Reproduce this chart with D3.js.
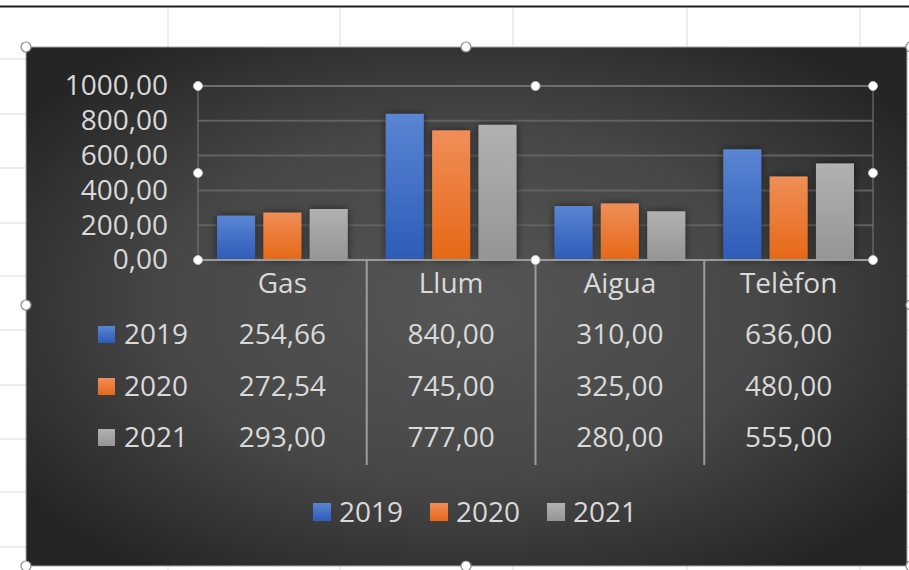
<!DOCTYPE html>
<html>
<head>
<meta charset="utf-8">
<script src="https://cdn.jsdelivr.net/npm/d3@7/dist/d3.min.js"></script>
<style>
  body { margin: 0; background: #ffffff; }
  svg { display: block; font-family: "Open Sans", sans-serif; }
  .texto { fill: #d9d9d9; font-size: 28px; }
</style>
</head>
<body>
<svg width="909" height="570"></svg>
<script>
// Dados do gráfico (despeses per any)
var categorias = ["Gas", "Llum", "Aigua", "Telèfon"];
var anos = ["2019", "2020", "2021"];
var valores2019 = [254.66, 840.00, 310.00, 636.00];
var valores2020 = [272.54, 745.00, 325.00, 480.00];
var valores2021 = [293.00, 777.00, 280.00, 555.00];
var marcasY = [0, 200, 400, 600, 800, 1000];

var valores = [valores2019, valores2020, valores2021];

// Cores das séries: topo e base do degradê
var coresTopo = ["#5b85d3", "#f08e58", "#b1b1b1"],
    coresBase = ["#2d5bb9", "#e66816", "#959595"];

var svg = d3.select("svg");
var defs = svg.append("defs");

// Formato com vírgula decimal
var formato = d3.formatLocale({decimal: ",", thousands: "", grouping: [3], currency: ["", ""]}).format(".2f");

/*
 * Fundo: planilha do Excel (linhas de grade) e a área do gráfico
 */
var colunasPlanilha = [168, 340, 513, 687, 860],
    linhasPlanilha = [59, 114, 168, 223, 276, 330, 385, 439, 492, 547];

svg.append("g")
    .selectAll("line")
    .data(colunasPlanilha)
    .enter().append("line")
      .attr("x1", function(d){return d;}).attr("x2", function(d){return d;})
      .attr("y1", 7).attr("y2", 570)
      .attr("stroke", "#dadada");
svg.append("g")
    .selectAll("line")
    .data(linhasPlanilha)
    .enter().append("line")
      .attr("x1", 0).attr("x2", 909)
      .attr("y1", function(d){return d;}).attr("y2", function(d){return d;})
      .attr("stroke", "#dadada");
svg.append("line")
    .attr("x1", 0).attr("x2", 909).attr("y1", 6.5).attr("y2", 6.5)
    .attr("stroke", "#1e1e1e").attr("stroke-width", 2);

var fundo = defs.append("radialGradient")
    .attr("id", "fundo")
    .attr("cx", "50%").attr("cy", "50%").attr("r", "62%");
fundo.append("stop").attr("offset", "0%").attr("stop-color", "#565656");
fundo.append("stop").attr("offset", "55%").attr("stop-color", "#474747");
fundo.append("stop").attr("offset", "100%").attr("stop-color", "#252525");

var area = {x0: 26, y0: 47, x1: 907, y1: 566};
svg.append("rect")
    .attr("x", area.x0).attr("y", area.y0)
    .attr("width", area.x1 - area.x0).attr("height", area.y1 - area.y0)
    .attr("fill", "url(#fundo)")
    .attr("stroke", "#a8a8a8").attr("stroke-width", 1);

// Degradês das barras
anos.forEach(function(a, i) {
  var g = defs.append("linearGradient")
      .attr("id", "barra" + i)
      .attr("x1", 0).attr("y1", 0).attr("x2", 0).attr("y2", 1);
  g.append("stop").attr("offset", "0%").attr("stop-color", coresTopo[i]);
  g.append("stop").attr("offset", "100%").attr("stop-color", coresBase[i]);
});

var sombra = defs.append("filter")
    .attr("id", "sombra")
    .attr("x", "-40%").attr("y", "-20%").attr("width", "180%").attr("height", "140%");
sombra.append("feDropShadow")
    .attr("dx", 0).attr("dy", 0).attr("stdDeviation", 4)
    .attr("flood-color", "#000").attr("flood-opacity", 0.55);

/*
 * Escalas
 */
var plot = {left: 198, right: 873, top: 86, bottom: 260};

var x = d3.scaleBand()
    .domain(categorias)
    .range([plot.left, plot.right])
    .padding(0);

var xSerie = d3.scaleBand()
    .domain(anos)
    .range([0, x.bandwidth()])
    .paddingInner(0.18)
    .paddingOuter(0.41);

var y = d3.scaleLinear()
    .domain([0, 1000])
    .range([plot.bottom, plot.top]);

// Linhas de grade horizontais
svg.append("g")
    .selectAll("line")
    .data(marcasY.filter(function(d){return d > 0;}))
    .enter().append("line")
      .attr("x1", plot.left).attr("x2", plot.right)
      .attr("y1", function(d){return y(d);}).attr("y2", function(d){return y(d);})
      .attr("stroke", "#626262").attr("stroke-width", 2);

// Contorno da área de plotagem (selecionada)
svg.append("rect")
    .attr("x", plot.left).attr("y", plot.top)
    .attr("width", plot.right - plot.left).attr("height", plot.bottom - plot.top)
    .attr("fill", "none")
    .attr("stroke", "#7c7c7c").attr("stroke-width", 1);

// Barras
var dadosBarras = [];
categorias.forEach(function(c, i) {
  anos.forEach(function(a, j) {
    dadosBarras.push({categoria: c, ano: a, serie: j, valor: valores[j][i]});
  });
});

svg.append("g")
    .attr("class", "barras")
  .selectAll("rect")
  .data(dadosBarras)
  .enter().append("rect")
    .attr("x", function(d){return x(d.categoria) + xSerie(d.ano);})
    .attr("y", function(d){return y(d.valor);})
    .attr("width", xSerie.bandwidth())
    .attr("height", function(d){return y(0) - y(d.valor);})
    .attr("fill", function(d){return "url(#barra" + d.serie + ")";})
    .attr("filter", "url(#sombra)");

// Eixo horizontal (linha do zero)
svg.append("line")
    .attr("x1", plot.left).attr("x2", plot.right)
    .attr("y1", y(0)).attr("y2", y(0))
    .attr("stroke", "#9a9a9a").attr("stroke-width", 2);

// Eixo vertical
var eixoY = svg.append("g")
    .attr("transform", "translate(" + plot.left + ",0)")
    .call(d3.axisLeft(y).tickValues(marcasY).tickFormat(formato).tickSize(0).tickPadding(30));
eixoY.select(".domain").remove();
eixoY.selectAll("text")
    .attr("class", "texto")
    .attr("fill", null)
    .style("font-family", "Open Sans")
    .style("font-size", "28px");

/*
 * Tabela de dados abaixo do gráfico
 */
var linhaCategoria = 293,
    linhasTabela = [344, 396, 447],
    fimTabela = 465;

svg.append("g")
    .selectAll("line")
    .data(categorias.slice(1))
    .enter().append("line")
      .attr("x1", function(d){return x(d);}).attr("x2", function(d){return x(d);})
      .attr("y1", plot.bottom).attr("y2", fimTabela)
      .attr("stroke", "#9c9c9c").attr("stroke-width", 2);

svg.append("g")
    .selectAll("text")
    .data(categorias)
    .enter().append("text")
      .attr("class", "texto")
      .attr("x", function(d){return x(d) + x.bandwidth() / 2;})
      .attr("y", linhaCategoria)
      .attr("text-anchor", "middle")
      .text(function(d){return d;});

var linhasValores = svg.append("g")
    .selectAll("g")
    .data(anos)
    .enter().append("g");

linhasValores.selectAll("text")
    .data(function(a, j){return categorias.map(function(c, i){return {categoria: c, valor: valores[j][i]};});})
    .enter().append("text")
      .attr("class", "texto")
      .attr("x", function(d){return x(d.categoria) + x.bandwidth() / 2;})
      .attr("y", function(d, i, nos){return linhasTabela[anos.indexOf(d3.select(nos[i].parentNode).datum())];})
      .attr("text-anchor", "middle")
      .text(function(d){return formato(d.valor);});

// Chaves de legenda na tabela
linhasValores.append("rect")
    .attr("x", plot.left - 100)
    .attr("y", function(d, j){return linhasTabela[j] - 18;})
    .attr("width", 17).attr("height", 17)
    .attr("fill", function(d, j){return "url(#barra" + j + ")";});
linhasValores.append("text")
    .attr("class", "texto")
    .attr("x", plot.left - 74)
    .attr("y", function(d, j){return linhasTabela[j];})
    .text(function(d){return d;});

/*
 * Legenda inferior
 */
var passoLegenda = 117,
    inicioLegenda = 313,
    linhaLegenda = 522;

var legenda = svg.append("g")
    .selectAll("g")
    .data(anos)
    .enter().append("g")
      .attr("transform", function(d, j){return "translate(" + (inicioLegenda + j * passoLegenda) + "," + linhaLegenda + ")";});
legenda.append("rect")
    .attr("x", 0).attr("y", -19)
    .attr("width", 18).attr("height", 18)
    .attr("fill", function(d, j){return "url(#barra" + j + ")";});
legenda.append("text")
    .attr("class", "texto")
    .attr("x", 26).attr("y", 0)
    .text(function(d){return d;});

/*
 * Alças de seleção (área do gráfico e área de plotagem)
 */
var alcasArea = [[area.x0, area.y0], [466, area.y0], [911, area.y0],
                 [area.x0, 305], [911, 305],
                 [area.x0, area.y1], [466, area.y1], [911, area.y1]];
svg.append("g")
    .selectAll("circle")
    .data(alcasArea)
    .enter().append("circle")
      .attr("cx", function(d){return d[0];}).attr("cy", function(d){return d[1];})
      .attr("r", 5)
      .attr("fill", "#ffffff")
      .attr("stroke", "#8a8a8a").attr("stroke-width", 1.2);

var meioX = (plot.left + plot.right) / 2,
    meioY = (plot.top + plot.bottom) / 2;
var alcasPlot = [[plot.left, plot.top], [meioX, plot.top], [plot.right, plot.top],
                 [plot.left, meioY], [plot.right, meioY],
                 [plot.left, plot.bottom], [meioX, plot.bottom], [plot.right, plot.bottom]];
svg.append("g")
    .selectAll("circle")
    .data(alcasPlot)
    .enter().append("circle")
      .attr("cx", function(d){return d[0];}).attr("cy", function(d){return d[1];})
      .attr("r", 4.5)
      .attr("fill", "#ffffff")
      .attr("stroke", "#bdbdbd").attr("stroke-width", 1);
</script>
</body>
</html>
